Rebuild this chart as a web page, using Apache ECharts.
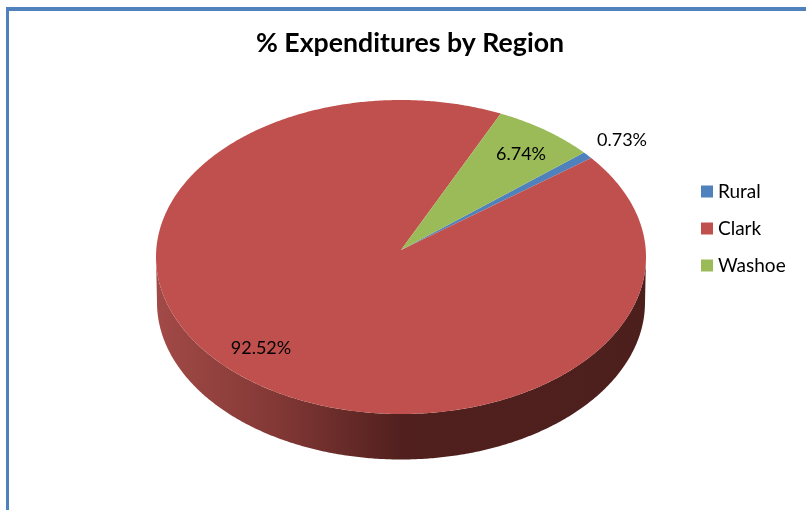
<!DOCTYPE html>
<html><head><meta charset="utf-8">
<style>html,body{margin:0;padding:0;background:#fff}#c{width:806px;height:510px}</style>
<script src="https://cdn.jsdelivr.net/npm/echarts@6/dist/echarts.min.js"></script>
</head><body><div id="c"></div>
<script>
const regions = ['Rural', 'Clark', 'Washoe'];
const shares = [0.73, 92.52, 6.74];
const chartTitle = '% Expenditures by Region';

const colors = ['#4F81BD', '#C0504D', '#9BBB59'];
const FONT = 'Lato, "Open Sans", sans-serif';
const geo = {cx: 401, cy: 257, rx: 245, ry: 157, apexY: 250, wallCy: 302.5, wallRx: 244, wallRy: 157, firstDeg: 48.3};
const labelAnchor = [[622, 140], [261, 348], [521, 154]];
const total = shares.reduce((a, b) => a + b, 0);

function pt(deg, cy, rx, ry) {
  const a = deg * Math.PI / 180;
  return [geo.cx + rx * Math.sin(a), cy - ry * Math.cos(a)];
}
function arc(a0, a1, cy, rx, ry) {
  const out = [], n = Math.max(2, Math.ceil(Math.abs(a1 - a0) * 2));
  for (let i = 0; i <= n; i++) out.push(pt(a0 + (a1 - a0) * i / n, cy, rx, ry));
  return out;
}
function wallRanges(a0, a1) {
  const res = [];
  for (const k of [0, 360]) {
    const s = Math.max(a0, 90 + k), e = Math.min(a1, 270 + k);
    if (e > s) res.push([s, e]);
  }
  return res;
}
function render(idx) {
  return function (params, api) {
    const v = api.value(0);
    let start = geo.firstDeg;
    for (let i = 0; i < idx; i++) start += shares[i] / total * 360;
    const end = start + v / total * 360;
    const children = [];
    wallRanges(start, end).forEach(([s, e]) => {
      const poly = arc(s, e, geo.cy, geo.rx, geo.ry).concat(arc(e, s, geo.wallCy, geo.wallRx, geo.wallRy));
      children.push({type: 'polygon', shape: {points: poly}, style: {
        fill: new echarts.graphic.LinearGradient(0, 0, 1, 0, [
          {offset: 0, color: '#A24A47'}, {offset: 0.25, color: '#823835'},
          {offset: 0.5, color: '#51201E'}, {offset: 1, color: '#4C1F1D'}])}});
    });
    const poly = [[geo.cx, geo.apexY]].concat(arc(start, end, geo.cy, geo.rx, geo.ry));
    children.push({type: 'polygon', shape: {points: poly}, style: {fill: colors[idx]}});
    children.push({type: 'text', z2: 10, style: {
      text: v.toFixed(2) + '%', x: labelAnchor[idx][0], y: labelAnchor[idx][1],
      align: 'center', verticalAlign: 'middle', fill: '#000', font: '18px ' + FONT}});
    return {type: 'group', children};
  };
}
const chart = echarts.init(document.getElementById('c'), null, {renderer: 'canvas'});
chart.setOption({
  animation: false,
  backgroundColor: '#fff',
  title: {text: chartTitle, left: 405, top: 25, textAlign: 'center',
    textStyle: {fontFamily: FONT, fontSize: 26.7, fontWeight: 'bold', color: '#000'}},
  legend: {data: regions, orient: 'vertical', left: 701, top: 182, icon: 'rect', itemWidth: 12, itemHeight: 12,
    itemGap: 18, padding: 0, selectedMode: false,
    textStyle: {fontFamily: FONT, fontSize: 19, color: '#000'}},
  graphic: [
    {type: 'rect', shape: {x: 6, y: 7, width: 800, height: 4}, style: {fill: '#4F81BD'}, silent: true},
    {type: 'rect', shape: {x: 6, y: 7, width: 3, height: 503}, style: {fill: '#4F81BD'}, silent: true}
  ],
  series: regions.map((name, i) => ({
    type: 'custom', name, coordinateSystem: 'none', silent: true,
    itemStyle: {color: colors[i]},
    renderItem: render(i),
    data: [[shares[i]]]
  }))
});
</script></body></html>
